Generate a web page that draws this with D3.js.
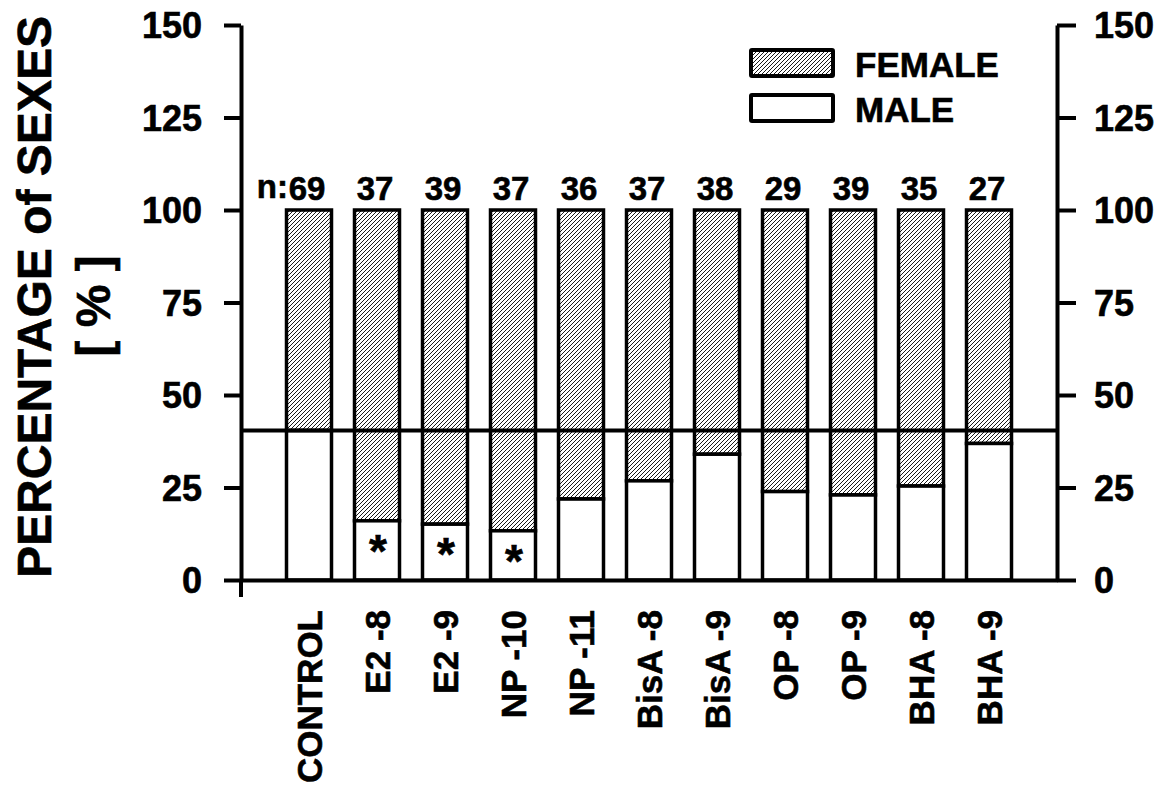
<!DOCTYPE html>
<html>
<head>
<meta charset="utf-8">
<script src="https://cdn.jsdelivr.net/npm/d3@7/dist/d3.min.js"></script>
<style>
  html, body { margin: 0; padding: 0; background: #fff; }
  svg { display: block; font-family: "Liberation Sans", Arial, sans-serif; font-weight: bold; }
  svg text { stroke: #000; stroke-width: 0.6px; fill: #000; }
</style>
</head>
<body>
<svg id="chart" width="1173" height="789"></svg>
<script>
const categories = ["CONTROL", "E2 -8", "E2 -9", "NP -10", "NP -11", "BisA -8", "BisA -9", "OP -8", "OP -9", "BHA -8", "BHA -9"];
const maleValues = [40.4, 16.0, 15.1, 13.3, 21.9, 26.8, 34.0, 23.9, 23.0, 25.4, 36.9];
const femaleValues = [59.6, 84.0, 84.9, 86.7, 78.1, 73.2, 66.0, 76.1, 77.0, 74.6, 63.1];
const nValues = [69, 37, 39, 37, 36, 37, 38, 29, 39, 35, 27];
const significant = [false, true, true, true, false, false, false, false, false, false, false];
const referenceValue = 40.4;
const yTicks = [0, 25, 50, 75, 100, 125, 150];
const legendLabels = ["FEMALE", "MALE"];

const svg = d3.select("#chart");
const x0 = 241, x1 = 1057, yTop = 25, yBottom = 580;

const x = d3.scalePoint().domain(categories).range([x0, x1]).padding(1);
const y = d3.scaleLinear().domain([0, 150]).range([yBottom, yTop]);
const barW = 45;

// hatch pattern
const defs = svg.append("defs");
const pat = defs.append("pattern").attr("id", "hatch").attr("patternUnits", "userSpaceOnUse")
  .attr("width", 4).attr("height", 4);
pat.append("rect").attr("width", 4).attr("height", 4).attr("fill", "#fff");
pat.append("path").attr("d", "M-1,1 L1,-1 M0,4 L4,0 M3,5 L5,3")
  .attr("stroke", "#000").attr("stroke-width", 0.9);

const data = categories.map((c, i) => ({ c, male: maleValues[i], female: femaleValues[i], n: nValues[i], sig: significant[i] }));

const bars = svg.append("g");
bars.selectAll("rect.female").data(data).join("rect")
  .attr("class", "female")
  .attr("x", d => x(d.c) - barW / 2)
  .attr("width", barW)
  .attr("y", d => y(d.male + d.female))
  .attr("height", d => y(d.male) - y(d.male + d.female))
  .attr("fill", "url(#hatch)")
  .attr("stroke", "#000").attr("stroke-width", 3.5);
bars.selectAll("rect.male").data(data).join("rect")
  .attr("class", "male")
  .attr("x", d => x(d.c) - barW / 2)
  .attr("width", barW)
  .attr("y", d => y(d.male))
  .attr("height", d => y(0) - y(d.male))
  .attr("fill", "#fff")
  .attr("stroke", "#000").attr("stroke-width", 3.5);
bars.selectAll("line.div").data(data).join("line")
  .attr("x1", d => x(d.c) - barW / 2).attr("x2", d => x(d.c) + barW / 2)
  .attr("y1", d => y(d.male)).attr("y2", d => y(d.male))
  .attr("stroke", "#000").attr("stroke-width", 2.5);

// asterisks
svg.append("g").selectAll("text").data(data.filter(d => d.sig)).join("text")
  .attr("x", d => x(d.c) + 1)
  .attr("y", d => y(d.male) + 46)
  .attr("text-anchor", "middle")
  .attr("font-size", 46)
  .text("*");

// n labels
svg.append("g").selectAll("text").data(data).join("text")
  .attr("x", d => x(d.c) - 2)
  .attr("y", 200)
  .attr("text-anchor", "middle")
  .attr("font-size", 33)
  .text(d => d.n);
svg.append("text").attr("x", x(categories[0]) - 21).attr("y", 198)
  .attr("text-anchor", "end").attr("font-size", 33).text("n:");

// reference line
svg.append("line").attr("x1", x0).attr("x2", x1)
  .attr("y1", y(referenceValue)).attr("y2", y(referenceValue))
  .attr("stroke", "#000").attr("stroke-width", 4);

// axes
const yAxisL = d3.axisLeft(y).tickValues(yTicks).tickSize(17).tickSizeOuter(0).tickPadding(22);
const gL = svg.append("g").attr("transform", `translate(${x0},0)`).call(yAxisL);
const yAxisR = d3.axisRight(y).tickValues(yTicks).tickSize(19).tickSizeOuter(0).tickPadding(18);
const gR = svg.append("g").attr("transform", `translate(${x1},0)`).call(yAxisR);
[gL, gR].forEach(g => {
  g.select(".domain").attr("stroke", "#000").attr("stroke-width", 4);
  g.selectAll(".tick line").attr("stroke", "#000").attr("stroke-width", 4);
  g.selectAll(".tick text").attr("font-size", 36).attr("font-family", "Liberation Sans, Arial, sans-serif")
    .attr("font-weight", "bold").attr("fill", "#000").attr("dy", "0.36em");
});
svg.append("line").attr("x1", x0).attr("x2", x0).attr("y1", yBottom).attr("y2", yBottom + 17)
  .attr("stroke", "#000").attr("stroke-width", 4);

// x axis
const xAxis = d3.axisBottom(x).tickSize(0).tickSizeOuter(0).tickPadding(0);
const gX = svg.append("g").attr("transform", `translate(0,${yBottom})`).call(xAxis);
gX.select(".domain").attr("stroke", "#000").attr("stroke-width", 4);
gX.selectAll(".tick text")
  .attr("font-size", 35).attr("font-family", "Liberation Sans, Arial, sans-serif").attr("font-weight", "bold").attr("fill", "#000")
  .attr("text-anchor", "end")
  .attr("transform", "rotate(-90)")
  .attr("x", -30).attr("y", 0).attr("dy", "0.36em");

// y-axis title
svg.append("text").attr("transform", "translate(51,297) rotate(-90)")
  .attr("text-anchor", "middle").attr("font-size", 48).text("PERCENTAGE of SEXES");
svg.append("text").attr("transform", "translate(110,306) rotate(-90)")
  .attr("text-anchor", "middle").attr("font-size", 48).attr("xml:space", "preserve").text("[ % ]");

// legend
const lg = svg.append("g");
const legendFill = ["url(#hatch)", "#fff"];
legendLabels.forEach((lab, i) => {
  const yy = 50 + i * 45;
  lg.append("rect").attr("x", 751).attr("y", yy).attr("width", 82).attr("height", 26)
    .attr("fill", legendFill[i]).attr("stroke", "#000").attr("stroke-width", 4).attr("rx", 1);
  lg.append("text").attr("x", 855).attr("y", yy + 27).attr("font-size", 35).text(lab);
});
</script>
</body>
</html>
